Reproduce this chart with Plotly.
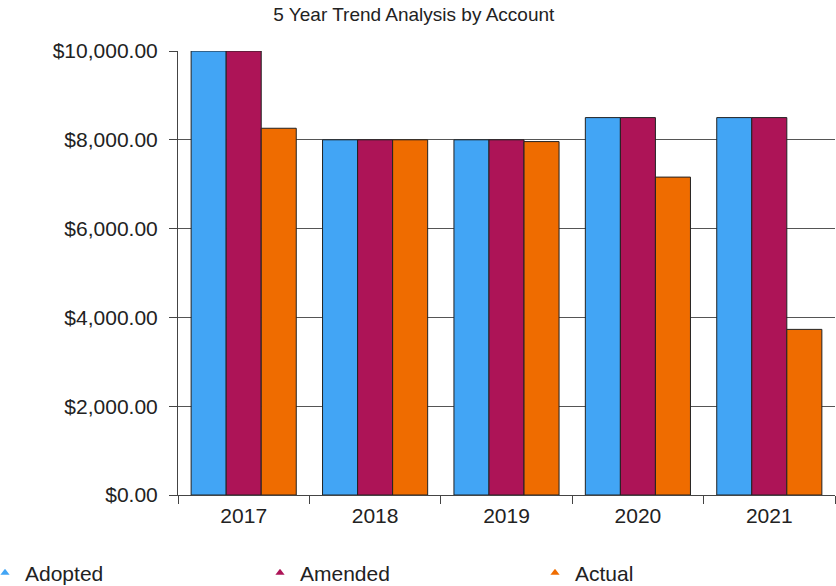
import plotly.graph_objects as go

years = ["2017", "2018", "2019", "2020", "2021"]
adopted = [10000, 8000, 8000, 8500, 8500]
amended = [10000, 8000, 8000, 8500, 8500]
actual = [8260, 8000, 7960, 7160, 3730]

series_names = ["Adopted", "Amended", "Actual"]
colors = ["#42A5F5", "#AD1457", "#EF6C00"]
values = [adopted, amended, actual]

FONT = "Liberation Sans, Arial, sans-serif"

fig = go.Figure()
for name, col, vals in zip(series_names, colors, values):
    fig.add_trace(go.Bar(
        x=years, y=vals, name=name, showlegend=False,
        marker=dict(color=col, line=dict(color="#222222", width=1)),
    ))
for name, col in zip(series_names, colors):
    fig.add_trace(go.Scatter(
        x=[None], y=[None], mode="markers", name=name,
        marker=dict(symbol="triangle-up", size=8, color=col),
    ))

fig.update_layout(
    width=836, height=586,
    margin=dict(l=178, r=1, t=51, b=91, autoexpand=False),
    paper_bgcolor="white", plot_bgcolor="white",
    barmode="group", bargap=0.2, bargroupgap=0,
    title=dict(text="5 Year Trend Analysis by Account", x=0.495, xref="container",
               y=1 - 14 / 586, yref="container", xanchor="center", yanchor="middle",
               font=dict(family=FONT, size=19, color="#222222")),
    font=dict(family=FONT, color="#222222"),
    legend=dict(orientation="h", xref="paper", yref="paper",
                x=-178 / 657, y=(495 - 573) / 444, xanchor="left", yanchor="middle",
                entrywidth=245, entrywidthmode="pixels", indentation=-15,
                font=dict(family=FONT, size=21, color="#222222")),
    xaxis=dict(showline=True, linecolor="#444444", linewidth=1,
               ticks="outside", tickson="boundaries", ticklen=8, tickcolor="#444444",
               ticklabelstandoff=2,
               tickfont=dict(family=FONT, size=21, color="#222222"), showgrid=False),
    yaxis=dict(range=[0, 10000], tickvals=[0, 2000, 4000, 6000, 8000, 10000],
               tickformat="$,.2f", showline=True, linecolor="#444444", linewidth=1,
               ticks="outside", ticklen=8, tickcolor="#444444", ticklabelstandoff=7,
               showgrid=True, gridcolor="#555555", gridwidth=1, zeroline=False,
               tickfont=dict(family=FONT, size=21, color="#222222")),
)

fig.write_html("out.html", config={"displayModeBar": False},
               post_script="document.body.style.margin='0';")
